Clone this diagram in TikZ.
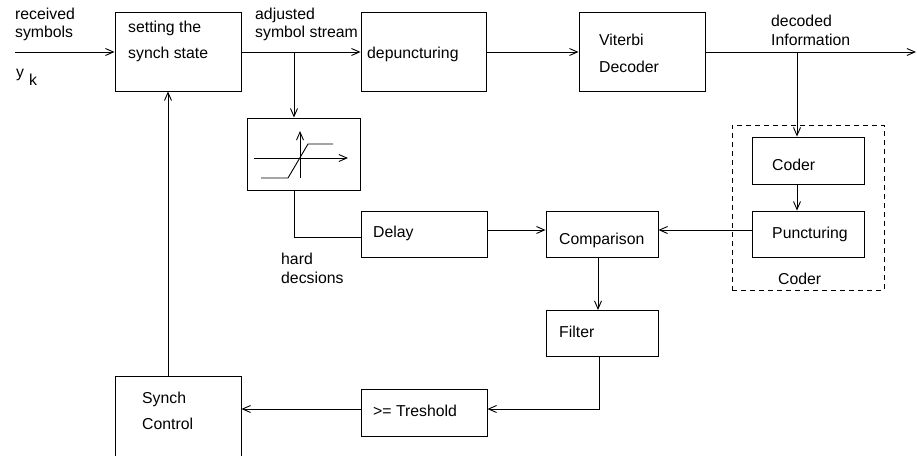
\documentclass[tikz,border=0pt]{standalone}
\usepackage{fontspec}
\setmainfont{Liberation Sans}
\usetikzlibrary{arrows.meta,fit}
\begin{document}
\begin{tikzpicture}[x=1pt,y=-1pt,
  box/.style={draw, line width=0.9pt, inner sep=0pt},
  group/.style={draw, line width=0.9pt, inner sep=0pt, dash pattern=on 5pt off 4pt},
  lbl/.style={anchor=base west, inner sep=0pt, font=\fontsize{15.8}{18}\selectfont},
  wire/.style={line width=0.9pt},
  arr/.style={wire, -{Straight Barb[length=8pt,width=7pt]}}]
\useasboundingbox (0,0) rectangle (917,455);

% blocks
\node[box, fit={(115,12) (241,91)}] (set) {};
\node[box, fit={(361,12) (486,91)}] (dep) {};
\node[box, fit={(579,12) (705,91)}] (vit) {};
\node[box, fit={(247,118) (360,190)}] (thr) {};
\node[box, fit={(361,211) (487,257)}] (delay) {};
\node[box, fit={(546,211) (658,257)}] (cmp) {};
\node[box, fit={(546,310) (658,356)}] (filt) {};
\node[box, fit={(361,389) (487,436)}] (tsh) {};
\node[box, fit={(115,376) (241,462)}] (sync) {};
\node[box, fit={(752,137) (864,184)}] (coder) {};
\node[box, fit={(752,211) (864,257)}] (punc) {};
\node[group, fit={(732,125) (884,290)}] (grp) {};

% hard-decision characteristic inside the slicer block
\draw[arr] (254,158) -- (348,158);
\draw[arr] (300,178) -- (300,131);
\draw[wire] (261,178) -- (288,178) -- (308,144) -- (333,144);

% labels
\node[lbl] (t1a) at (15,19) {received};
\node[lbl] (t1b) at (15,37) {symbols};
\node[lbl] (ty) at (16,77) {y};
\node[lbl] (tk) at (29,85) {k};
\node[lbl] (t2a) at (128,32) {setting the};
\node[lbl] (t2b) at (128,58) {synch state};
\node[lbl] (t3a) at (255,19) {adjusted};
\node[lbl] (t3b) at (255,37) {symbol stream};
\node[lbl] (t4) at (367,58) {depuncturing};
\node[lbl] (t5a) at (599,45) {Viterbi};
\node[lbl] (t5b) at (599,72) {Decoder};
\node[lbl] (t6a) at (771,26) {decoded};
\node[lbl] (t6b) at (771,45) {Information};
\node[lbl] (t7) at (772,170) {Coder};
\node[lbl] (t8) at (772,238) {Puncturing};
\node[lbl] (t9) at (778,284) {Coder};
\node[lbl] (t10) at (373,237) {Delay};
\node[lbl] (t11) at (559,244) {Comparison};
\node[lbl] (t12a) at (281,264) {hard};
\node[lbl] (t12b) at (281,283) {decsions};
\node[lbl] (t13) at (559,337) {Filter};
\node[lbl] (t14a) at (142,403) {Synch};
\node[lbl] (t14b) at (142,429) {Control};
\node[lbl] (t15) at (373,416) {>= Treshold};

% connectors
\coordinate (in) at (15,52);
\coordinate (out) at (916,52);
\coordinate (j1) at (294,52);
\coordinate (j2) at (797,52);
\coordinate (j3) at (294,237);
\coordinate (j4) at (599,409);
\coordinate (j5) at (168,376);

\draw[arr] (in) -- (in -| set.west);
\draw[arr] (in -| set.east) -- (in -| dep.west);
\draw[arr] (j1) -- (j1 |- thr.north);
\draw[arr] (in -| dep.east) -- (in -| vit.west);
\draw[arr] (in -| vit.east) -- (out);
\draw[arr] (j2) -- (j2 |- coder.north);
\draw[arr] (j2 |- coder.south) -- (j2 |- punc.north);
\draw[arr] (punc.west |- 0,230) -- (cmp.east |- 0,230);
\draw[wire] (j1 |- thr.south) -- (j3) -- (j3 -| delay.west);
\draw[arr] (delay.east |- 0,230) -- (cmp.west |- 0,230);
\draw[arr] (598,257) -- (598,310);
\draw[arr] (j4 |- filt.south) -- (j4) -- (j4 -| tsh.east);
\draw[arr] (j4 -| tsh.west) -- (j4 -| sync.east);
\draw[arr] (j5) -- (j5 |- set.south);
\end{tikzpicture}
\end{document}
